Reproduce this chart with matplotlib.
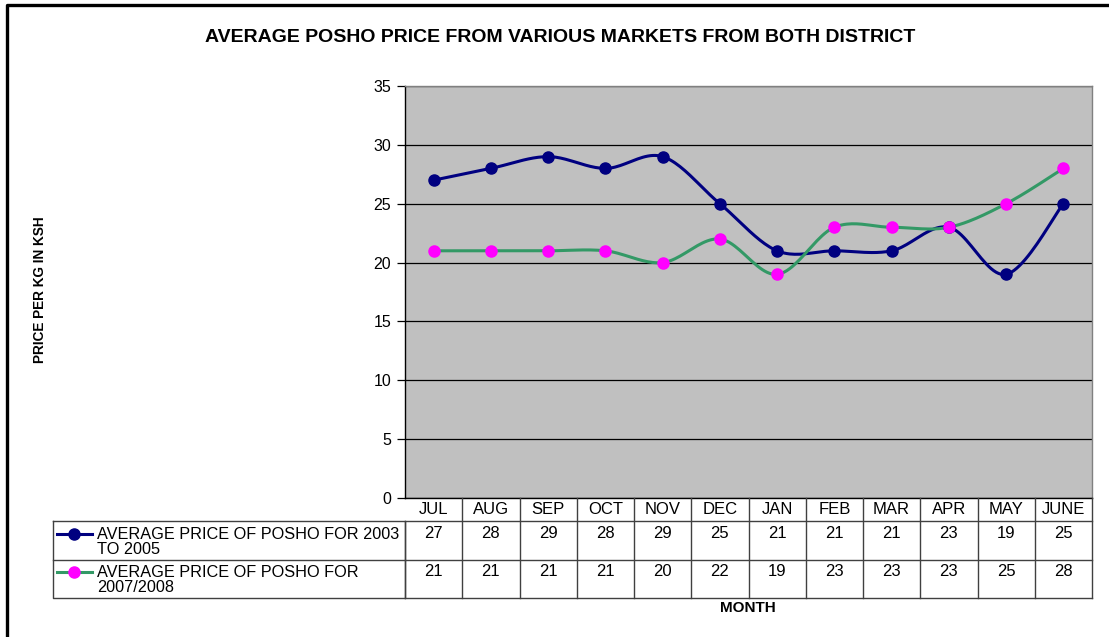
import matplotlib
matplotlib.use('Agg')
import matplotlib.pyplot as plt
import numpy as np

plt.rcParams['font.family'] = ['Liberation Sans', 'DejaVu Sans']

months = ['JUL', 'AUG', 'SEP', 'OCT', 'NOV', 'DEC', 'JAN', 'FEB', 'MAR', 'APR', 'MAY', 'JUNE']
price_2003_2005 = [27, 28, 29, 28, 29, 25, 21, 21, 21, 23, 19, 25]
price_2007_2008 = [21, 21, 21, 21, 20, 22, 19, 23, 23, 23, 25, 28]
series_names = ['AVERAGE PRICE OF POSHO FOR 2003\nTO 2005',
                'AVERAGE PRICE OF POSHO FOR\n2007/2008']

W, H = 1109, 637


def smooth(xs, ys, n=24):
    # Excel-like smoothed line: Catmull-Rom through the points as cubic Bezier
    pts = np.column_stack([xs, ys]).astype(float)
    out = [pts[0]]
    t = np.linspace(0, 1, n)[1:, None]
    for i in range(len(pts) - 1):
        p0 = pts[i - 1] if i > 0 else pts[i]
        p1, p2 = pts[i], pts[i + 1]
        p3 = pts[i + 2] if i + 2 < len(pts) else pts[i + 1]
        c1 = p1 + (p2 - p0) / 6
        c2 = p2 - (p3 - p1) / 6
        seg = ((1 - t) ** 3) * p1 + 3 * ((1 - t) ** 2) * t * c1 + 3 * (1 - t) * t ** 2 * c2 + t ** 3 * p2
        out.extend(seg)
    out = np.array(out)
    return out[:, 0], out[:, 1]


fig = plt.figure(figsize=(W / 100, H / 100), dpi=100)

# overlay in pixel coordinates for frame, title and legend column
ov = fig.add_axes([0, 0, 1, 1])
ov.set_xlim(0, W)
ov.set_ylim(H, 0)
ov.axis('off')
ov.plot([7, 7, W], [H, 5, 5], color='black', lw=2.4, solid_capstyle='butt')
ov.text(560, 38, 'AVERAGE POSHO PRICE FROM VARIOUS MARKETS FROM BOTH DISTRICT',
        ha='center', va='center', fontsize=14, fontweight='bold')
ov.text(40, 290, 'PRICE PER KG IN KSH', rotation=90, ha='center', va='center',
        fontsize=9.8, fontweight='bold')
ov.text(748, 608, 'MONTH', ha='center', va='center', fontsize=11, fontweight='bold')

# main plot
ax = fig.add_axes([405 / W, 1 - 498 / H, 687 / W, 412 / H])
ax.set_facecolor('#C0C0C0')
x = np.arange(len(months))
ax.set_xlim(-0.5, len(months) - 0.5)
ax.set_ylim(0, 35)
ax.set_yticks(range(0, 36, 5))
ax.set_xticks([])
ax.yaxis.grid(True, color='black', lw=0.9)
ax.set_axisbelow(True)
ax.tick_params(axis='y', direction='out', length=6, width=0.9, labelsize=11.5, pad=4)
for s in ['left', 'bottom']:
    ax.spines[s].set_color('black')
    ax.spines[s].set_linewidth(1)
for s in ['top', 'right']:
    ax.spines[s].set_color('#808080')
    ax.spines[s].set_linewidth(1)

colors = [('#000080', '#000080'), ('#339966', '#FF00FF')]
for vals, (lc, mc) in zip([price_2003_2005, price_2007_2008], colors):
    sx, sy = smooth(x, vals)
    ax.plot(sx, sy, color=lc, lw=2.2, zorder=3)
    ax.plot(x, vals, 'o', color=mc, mec=mc, ms=8, zorder=4)

# data table beneath, sharing the category scale
tab = fig.add_axes([405 / W, 1 - 598 / H, 687 / W, 100 / H])
tab.set_xlim(-0.5, len(months) - 0.5)
tab.set_ylim(598, 498)
tab.axis('off')
lc_tab = '#404040'
for i in range(1, len(months)):
    tab.plot([i - 0.5, i - 0.5], [498, 598], color=lc_tab, lw=1, clip_on=False)
tab.plot([len(months) - 0.5] * 2, [498, 598], color=lc_tab, lw=1, clip_on=False)
tab.plot([-0.5, -0.5], [521, 598], color=lc_tab, lw=1, clip_on=False)
for yy in [521, 560, 598]:
    tab.plot([-0.5, len(months) - 0.5], [yy, yy], color=lc_tab, lw=1, clip_on=False)
for i, m in enumerate(months):
    tab.text(i, 510, m, ha='center', va='center', fontsize=12)
    tab.text(i, 534, str(price_2003_2005[i]), ha='center', va='center', fontsize=12)
    tab.text(i, 572, str(price_2007_2008[i]), ha='center', va='center', fontsize=12)

# legend column of the table
ov.plot([53, 405, 405, 53, 53], [521, 521, 598, 598, 521], color=lc_tab, lw=1)
ov.plot([53, 405], [560, 560], color=lc_tab, lw=1)
for row_y, name, (lc, mc) in zip([534, 572], series_names, colors):
    ov.plot([57, 92], [row_y, row_y], color=lc, lw=2.2)
    ov.plot([74], [row_y], 'o', color=mc, mec=mc, ms=8)
    ov.text(97, row_y - 7, name, ha='left', va='top', fontsize=11.7, linespacing=1.02)

fig.savefig('out.png', dpi=100)
